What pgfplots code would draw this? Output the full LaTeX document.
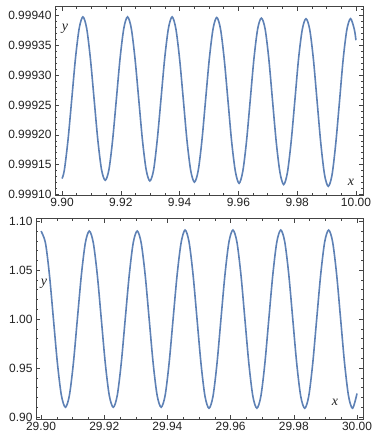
\documentclass[border=0pt]{standalone}
\usepackage{pgfplots}
\pgfplotsset{compat=1.18}
\usepackage{pgfplotstable}
\usepackage{fontspec}
\setmainfont{Liberation Sans}
\newfontfamily\lblfont{Liberation Serif}
\definecolor{mblue}{HTML}{5E81B5}
\definecolor{framec}{HTML}{444444}
\definecolor{labc}{HTML}{222222}

\pgfplotstableread{
x y
9.90000 0.999127
9.90078 0.999141
9.90204 0.999192
9.90331 0.999260
9.90457 0.999328
9.90584 0.999378
9.90710 0.999397
9.90837 0.999378
9.90963 0.999328
9.91090 0.999260
9.91216 0.999192
9.91343 0.999142
9.91469 0.999124
9.91596 0.999142
9.91722 0.999192
9.91849 0.999260
9.91975 0.999328
9.92102 0.999378
9.92228 0.999397
9.92355 0.999378
9.92481 0.999328
9.92608 0.999260
9.92734 0.999192
9.92861 0.999142
9.92987 0.999123
9.93114 0.999141
9.93240 0.999192
9.93367 0.999260
9.93493 0.999328
9.93620 0.999378
9.93746 0.999397
9.93873 0.999377
9.93999 0.999327
9.94126 0.999259
9.94252 0.999190
9.94379 0.999140
9.94505 0.999121
9.94632 0.999140
9.94758 0.999190
9.94885 0.999259
9.95011 0.999327
9.95138 0.999377
9.95264 0.999396
9.95391 0.999377
9.95517 0.999327
9.95644 0.999258
9.95770 0.999189
9.95897 0.999139
9.96023 0.999119
9.96150 0.999139
9.96276 0.999189
9.96403 0.999258
9.96529 0.999327
9.96656 0.999377
9.96782 0.999395
9.96909 0.999377
9.97035 0.999327
9.97162 0.999257
9.97288 0.999188
9.97415 0.999137
9.97541 0.999117
9.97668 0.999137
9.97794 0.999188
9.97921 0.999257
9.98047 0.999327
9.98174 0.999376
9.98300 0.999394
9.98427 0.999376
9.98553 0.999326
9.98680 0.999255
9.98806 0.999185
9.98933 0.999133
9.99059 0.999114
9.99186 0.999133
9.99312 0.999185
9.99439 0.999255
9.99565 0.999326
9.99692 0.999376
9.99818 0.999394
9.99945 0.999376
10.00000 0.999358
}\toptable

\pgfplotstableread{
x y
29.90000 1.0899
29.90139 1.0779
29.90266 1.0450
29.90392 1.0000
29.90518 0.9550
29.90644 0.9221
29.90771 0.9100
29.90897 0.9221
29.91023 0.9550
29.91149 1.0000
29.91276 1.0450
29.91402 1.0779
29.91528 1.0900
29.91654 1.0779
29.91781 1.0450
29.91907 1.0000
29.92033 0.9550
29.92159 0.9221
29.92286 0.9100
29.92412 0.9221
29.92538 0.9550
29.92664 1.0000
29.92791 1.0450
29.92917 1.0779
29.93043 1.0900
29.93169 1.0779
29.93296 1.0450
29.93422 1.0000
29.93548 0.9550
29.93674 0.9221
29.93801 0.9100
29.93927 0.9221
29.94053 0.9550
29.94179 1.0000
29.94306 1.0450
29.94432 1.0779
29.94558 1.0910
29.94684 1.0788
29.94811 1.0455
29.94937 1.0000
29.95063 0.9545
29.95189 0.9212
29.95316 0.9090
29.95442 0.9212
29.95568 0.9545
29.95694 1.0000
29.95821 1.0455
29.95947 1.0788
29.96073 1.0910
29.96199 1.0788
29.96326 1.0455
29.96452 1.0000
29.96578 0.9545
29.96704 0.9212
29.96831 0.9090
29.96957 0.9212
29.97083 0.9545
29.97209 1.0000
29.97336 1.0455
29.97462 1.0788
29.97588 1.0910
29.97714 1.0788
29.97841 1.0455
29.97967 1.0000
29.98093 0.9545
29.98219 0.9212
29.98346 0.9090
29.98472 0.9212
29.98598 0.9545
29.98724 1.0000
29.98851 1.0455
29.98977 1.0788
29.99103 1.0910
29.99229 1.0788
29.99356 1.0455
29.99482 1.0000
29.99608 0.9545
29.99734 0.9212
29.99861 0.9090
30.00000 0.9240
}\bottable

\pgfplotsset{
  mstyle/.style={
    scale only axis,
    anchor=south west,
    tick align=inside,
    major tick length=4.5bp,
    minor tick length=2.5bp,
    axis line style={framec, line width=0.6bp},
    every tick/.style={framec, line width=0.6bp},
    tick label style={font=\fontsize{12}{14}\selectfont, text=labc},
    /pgf/number format/assume math mode=true,
    scaled x ticks=false,
    scaled y ticks=false,
    clip=true,
  }
}

\begin{document}
\begin{tikzpicture}
\path[use as bounding box] (0,0) rectangle (372bp,437bp);

\begin{axis}[mstyle,
  at={(55bp,242bp)}, width=308bp, height=188.3bp,
  xmin=9.8976, xmax=10.0024,
  ymin=0.9990995, ymax=0.999414,
  xtick={9.90,9.92,9.94,9.96,9.98,10.00},
  xticklabels={9.90,9.92,9.94,9.96,9.98,10.00},
  minor xtick={9.905,9.910,9.915,9.925,9.930,9.935,9.945,9.950,9.955,9.965,9.970,9.975,9.985,9.990,9.995},
  ytick={0.99910,0.99915,0.99920,0.99925,0.99930,0.99935,0.99940},
  yticklabels={0.99910,0.99915,0.99920,0.99925,0.99930,0.99935,0.99940},
  minor ytick={0.99911,0.99912,0.99913,0.99914,0.99916,0.99917,0.99918,0.99919,0.99921,0.99922,0.99923,0.99924,0.99926,0.99927,0.99928,0.99929,0.99931,0.99932,0.99933,0.99934,0.99936,0.99937,0.99938,0.99939,0.99941},
]
\addplot[color=mblue, line width=1.6bp, smooth] table[x=x,y=y] {\toptable};
\node[text=labc, font=\lblfont\itshape\fontsize{14}{16}\selectfont] at (rel axis cs:0.032,0.885) {y};
\node[text=labc, font=\lblfont\itshape\fontsize{14}{16}\selectfont] at (rel axis cs:0.961,0.065) {x};
\end{axis}

\begin{axis}[mstyle,
  at={(36bp,18bp)}, width=327bp, height=200.7bp,
  xmin=29.8984, xmax=30.0019,
  ymin=0.898, ymax=1.103,
  xtick={29.90,29.92,29.94,29.96,29.98,30.00},
  xticklabels={29.90,29.92,29.94,29.96,29.98,30.00},
  minor xtick={29.905,29.910,29.915,29.925,29.930,29.935,29.945,29.950,29.955,29.965,29.970,29.975,29.985,29.990,29.995},
  ytick={0.90,0.95,1.00,1.05,1.10},
  yticklabels={0.90,0.95,1.00,1.05,1.10},
  minor ytick={0.91,0.92,0.93,0.94,0.96,0.97,0.98,0.99,1.01,1.02,1.03,1.04,1.06,1.07,1.08,1.09},
]
\addplot[color=mblue, line width=1.6bp, smooth] table[x=x,y=y] {\bottable};
\node[text=labc, font=\lblfont\itshape\fontsize{14}{16}\selectfont] at (rel axis cs:0.0245,0.676) {y};
\node[text=labc, font=\lblfont\itshape\fontsize{14}{16}\selectfont] at (rel axis cs:0.914,0.083) {x};
\end{axis}
\end{tikzpicture}
\end{document}
